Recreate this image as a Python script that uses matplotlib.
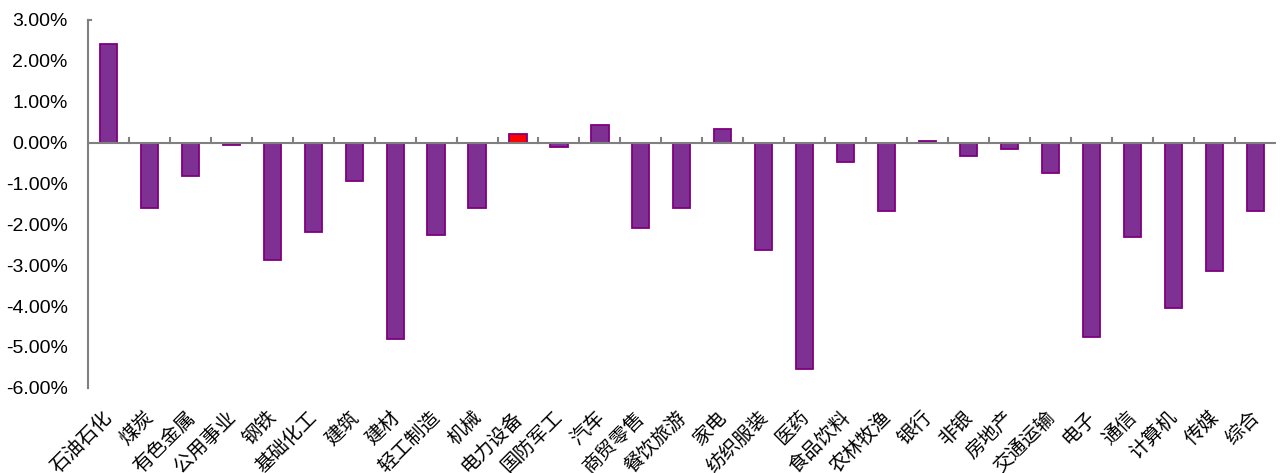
import matplotlib
matplotlib.use("Agg")
import matplotlib.pyplot as plt
from matplotlib.ticker import FuncFormatter, MultipleLocator
import numpy as np

categories = ["石油石化", "煤炭", "有色金属", "公用事业", "钢铁", "基础化工", "建筑", "建材",
              "轻工制造", "机械", "电力设备", "国防军工", "汽车", "商贸零售", "餐饮旅游", "家电",
              "纺织服装", "医药", "食品饮料", "农林牧渔", "银行", "非银", "房地产", "交通运输",
              "电子", "通信", "计算机", "传媒", "综合"]
values = [2.40, -1.60, -0.83, -0.07, -2.87, -2.18, -0.93, -4.80,
          -2.25, -1.60, 0.20, -0.10, 0.44, -2.10, -1.60, 0.34,
          -2.62, -5.53, -0.47, -1.67, 0.04, -0.34, -0.15, -0.75,
          -4.75, -2.30, -4.05, -3.13, -1.67]
highlight = "电力设备"

fig = plt.figure(figsize=(12.86, 4.73), dpi=100)
ax = fig.add_axes([0.0684, 0.180, 0.9236, 0.778])

x = np.arange(len(categories))
colors = ["#FF0000" if c == highlight else "#7F3193" for c in categories]
ax.bar(x, values, width=0.42, color=colors, edgecolor="#800080", linewidth=1.3, zorder=3)

ax.set_xlim(-0.5, len(categories) - 0.5)
ax.set_ylim(-6, 3)
ax.yaxis.set_major_locator(MultipleLocator(1))
ax.yaxis.set_major_formatter(FuncFormatter(lambda v, p: f"{v:.2f}%"))
for lab in ax.get_yticklabels():
    lab.set_family(["Liberation Sans", "DejaVu Sans"])
ax.tick_params(axis="y", labelsize=14, length=0, pad=14.5)

for s in ["top", "right", "bottom"]:
    ax.spines[s].set_visible(False)
ax.spines["left"].set_color("#808080")
ax.spines["left"].set_linewidth(1.5)
ax.axhline(0, color="#808080", linewidth=1.5, zorder=4)
# small cap at top of the value axis
ax.plot([-0.5, -0.42], [3, 3], color="#808080", linewidth=1.5, clip_on=False, zorder=4)

# category boundary ticks on the zero line
ax.set_xticks([])
for b in np.arange(0.5, len(categories) - 0.5, 1):
    ax.plot([b, b], [0, 0.12], color="#808080", linewidth=1.5, zorder=4, clip_on=False)

for xi, c in zip(x, categories):
    ax.text(xi - 0.15, -6.46, c, rotation=45, ha="right", va="top", rotation_mode="anchor",
            fontsize=14, family=["Noto Sans CJK SC", "DejaVu Sans"], color="#000000")

fig.savefig("out.png", dpi=100)
